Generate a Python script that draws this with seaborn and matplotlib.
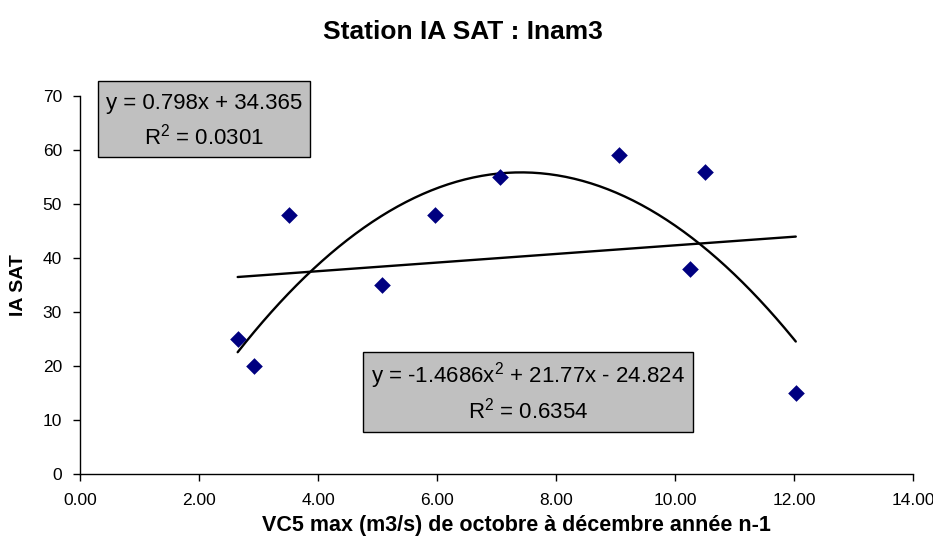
import numpy as np
import pandas as pd
import matplotlib
matplotlib.use("Agg")
import matplotlib.pyplot as plt
from matplotlib.patches import Rectangle
import seaborn as sns

# Observations: VC5 max (m3/s) vs IA SAT
vc5_max = [2.65, 2.92, 3.51, 5.08, 5.96, 7.06, 9.06, 10.26, 10.50, 12.03]
ia_sat = [25, 20, 48, 35, 48, 55, 59, 38, 56, 15]

# Trend line coefficients as printed on the chart
lin_coef = [0.798, 34.365]            # slope, intercept
lin_r2 = "0.0301"
poly_coef = [-1.4686, 21.77, -24.824]  # x^2, x, const
poly_r2 = "0.6354"

x_ticks = [0, 2, 4, 6, 8, 10, 12, 14]
y_ticks = [0, 10, 20, 30, 40, 50, 60, 70]

sns.set_style("ticks")
plt.rcParams["font.family"] = ["Liberation Sans", "DejaVu Sans"]
plt.rcParams["mathtext.default"] = "regular"
for key in ("text.color", "axes.labelcolor", "xtick.color", "ytick.color",
            "xtick.labelcolor", "ytick.labelcolor"):
    plt.rcParams[key] = "black"

W, H = 933, 549
fig = plt.figure(figsize=(W / 100, H / 100), dpi=100)
ax = fig.add_axes([80 / W, 1 - 474 / H, (913 - 80) / W, (474 - 96) / H])

df = pd.DataFrame({"x": vc5_max, "y": ia_sat})

# Trend lines over the observed range
xs = np.linspace(min(vc5_max), max(vc5_max), 200)
trend = pd.DataFrame({
    "x": np.concatenate([xs, xs]),
    "y": np.concatenate([np.polyval(lin_coef, xs), np.polyval(poly_coef, xs)]),
    "fit": ["linear"] * len(xs) + ["poly"] * len(xs),
})
sns.lineplot(data=trend, x="x", y="y", units="fit", estimator=None,
             color="black", linewidth=1.7, ax=ax, legend=False, zorder=2)

sns.scatterplot(data=df, x="x", y="y", marker="D", s=72, color="#000080",
                edgecolor="#000080", linewidth=0, ax=ax, zorder=3, legend=False)

ax.set_xlim(0, 14)
ax.set_ylim(0, 70)
ax.set_xticks(x_ticks)
ax.set_xticklabels([f"{v:.2f}" for v in x_ticks])
ax.set_yticks(y_ticks)
ax.set_yticklabels([str(v) for v in y_ticks])
ax.tick_params(axis="both", labelsize=12.5, length=5, width=1, color="black",
               direction="out", labelcolor="black")
ax.tick_params(axis="x", pad=9)
ax.tick_params(axis="y", pad=8)
for side in ("top", "right"):
    ax.spines[side].set_visible(False)
for side in ("left", "bottom"):
    ax.spines[side].set_color("black")
    ax.spines[side].set_linewidth(1)

ax.set_xlabel("VC5 max (m3/s) de octobre à décembre année n-1",
              fontsize=15.5, fontweight="bold")
ax.xaxis.set_label_coords((516 - 80) / 833, -(526 - 474) / 378)
ax.xaxis.label.set_va("center")
ax.set_ylabel("IA SAT", fontsize=14, fontweight="bold")
ax.yaxis.set_label_coords(-(80 - 18) / 833, 0.5)
ax.yaxis.label.set_va("center")
fig.text(463 / W, 1 - 32 / H, "Station IA SAT : Inam3", ha="center", va="center",
         fontsize=19, fontweight="bold")


def eq_box(x0, y0, x1, y1, line1, line2):
    fig.patches.append(Rectangle((x0 / W, 1 - y1 / H), (x1 - x0) / W, (y1 - y0) / H,
                                 transform=fig.transFigure, facecolor="#C0C0C0",
                                 edgecolor="black", linewidth=1, zorder=5))
    cx = (x0 + x1) / 2
    hgt = y1 - y0
    fig.text(cx / W, 1 - (y0 + hgt * 0.30) / H, line1, ha="center", va="center",
             fontsize=16, zorder=6)
    fig.text(cx / W, 1 - (y0 + hgt * 0.73) / H, line2, ha="center", va="center",
             fontsize=16, zorder=6)


eq_box(98, 81, 310, 157,
       f"y = {lin_coef[0]}x + {lin_coef[1]}", f"R$^{{2}}$ = {lin_r2}")
eq_box(363, 352, 693, 432,
       f"y = {poly_coef[0]}x$^{{2}}$ + {poly_coef[1]}x - {abs(poly_coef[2])}",
       f"R$^{{2}}$ = {poly_r2}")

fig.savefig("out.png", dpi=100)
